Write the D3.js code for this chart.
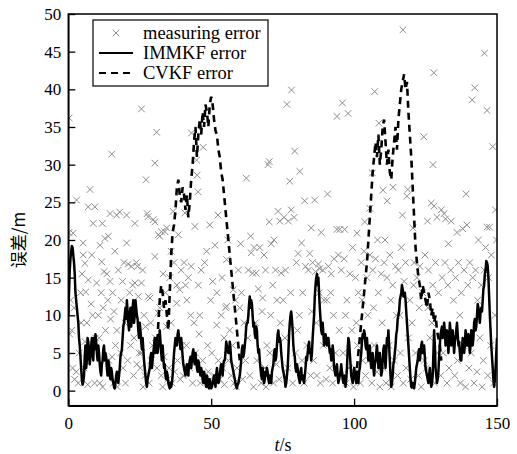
<!DOCTYPE html>
<html>
<head>
<meta charset="utf-8">
<script src="https://cdn.jsdelivr.net/npm/d3@7"></script>
<style>
  html, body { margin: 0; padding: 0; background: #fff; }
  svg { display: block; }
</style>
</head>
<body>
<svg id="chart" width="517" height="454"></svg>
<script>
// ---------------- data ----------------
const xTicks = [0, 50, 100, 150];
const yTicks = [0, 5, 10, 15, 20, 25, 30, 35, 40, 45, 50];
const legendLabels = ["measuring error", "IMMKF error", "CVKF error"];
const xLabelItalic = "t";
const xLabelRest = "/s";
const yLabel = "误差/m";

// IMMKF error, sampled every 0.5 s from t = 0
const immkfStep = 0.5;
const immkfValues = [
  10, 16, 18.5, 19, 17, 13, 11, 9, 6, 3, 0.8,
  2, 6, 4, 6.5, 3.5, 6, 5, 7, 7.5, 5,
  6, 3.5, 2, 4, 6, 5, 3, 4, 2, 3,
  1.5, 0.5, 1, 2.5, 1, 3, 5, 7, 9, 11,
  12, 9, 10, 8.5, 11, 9, 12, 10, 8, 9,
  6.5, 7, 4, 2, 0.5, 2, 3, 5, 4, 6,
  5, 7, 6, 8, 5, 6, 3, 2, 2.5, 1,
  0.3, 0.5, 2, 5, 7, 6, 8, 6.5, 7, 4.5,
  3, 2, 3.5, 2, 4, 3, 5, 4, 5, 3,
  4, 2.5, 3, 1.5, 2.5, 1, 2, 0.5, 1.5, 0.3,
  1, 2, 0.5, 3, 1, 2, 3.5, 2, 4, 5,
  6, 5, 6.5, 4, 3, 2, 1, 0.3, 1, 2,
  4, 6, 5, 7, 9, 10, 12.5, 12, 10, 9,
  7, 8, 5, 4, 2, 3, 1, 2.5, 3, 1.5,
  2, 1, 3, 5, 4, 6, 8, 7, 5, 3,
  2, 0.5, 2, 5, 9, 10.5, 8, 5, 3, 3.5,
  2, 1, 3, 2, 1, 3, 4, 6, 5, 4,
  7, 10, 14, 15.5, 15, 11, 8, 9, 6, 7.5,
  6, 7, 5, 4, 6, 3, 2, 3.5, 1, 2,
  3.5, 1.5, 2, 0.5, 3, 7, 5, 2, 1, 3,
  1.5, 2.5, 1, 3, 5, 7.5, 8, 6, 7, 4,
  6, 3, 5, 2, 4, 6, 3, 5, 2, 4,
  6, 3, 7, 8, 4, 0.5, 2, 4, 6, 8,
  10, 12, 13, 13.5, 13, 12, 9, 6, 3, 0.5,
  1, 0.3, 2, 3.5, 5, 4, 6, 5, 6, 3,
  2, 1, 3, 0.5, 2, 8, 3, 1, 2.5, 6,
  8, 7, 9, 6, 8, 5, 9, 6, 8, 5,
  7, 9, 6, 5, 4, 7, 5, 8, 6, 7.5,
  5, 8, 6, 9, 8, 10, 11, 9, 11, 12,
  14, 16, 17, 15, 10, 6, 3, 0.5, 3, 7
];
// IMMKF error at the quarter points (t = 0.25, 0.75, ...)
const immkfMidValues = [
  13, 17.5, 19.2, 18, 15.5, 12, 10, 7, 4.5, 1.5,
  1.2, 4.5, 3, 7, 5, 4.5, 7, 4, 5.5, 6.5,
  4, 5, 2.5, 3.5, 5.5, 4, 4.5, 2, 3.5, 1.5,
  2.5, 1, 0.3, 2, 1.5, 2, 4.5, 5.5, 8.5, 10,
  9.5, 10.5, 8, 11, 9.5, 12, 10, 11, 9.5, 7,
  8, 5.5, 5.5, 3, 1, 1.5, 2.5, 4.5, 3, 5,
  7, 6, 5, 7, 6.5, 4, 4.5, 3.5, 1.5, 2,
  0.6, 1, 1, 3.5, 6, 6.5, 7.5, 7, 5.5, 6,
  3.5, 2.5, 3, 2.5, 3.5, 4.5, 4, 5.5, 3.5, 4,
  2.5, 3.5, 2, 2.5, 1, 2, 0.5, 1.5, 0.3, 1,
  0.5, 1.5, 1, 2, 2, 1.2, 3, 2.5, 3.5, 4,
  6.5, 5.5, 5, 5.5, 3.5, 2.5, 1.5, 0.5, 0.8, 1.5,
  3, 5.5, 4.5, 6, 8.5, 9, 11.5, 11, 11.5, 8.5,
  7.5, 8.5, 6, 5.5, 3, 1.5, 2, 1.5, 2, 2.5,
  1, 1.5, 2.5, 3.5, 5.5, 4.5, 7.5, 6.5, 6.5, 4,
  2.5, 1.5, 1, 3, 7.5, 10, 9.5, 6, 4.5, 2.5,
  3, 1.5, 2.5, 1.5, 1.5, 2, 4.5, 5, 6.5, 5.5,
  5, 8.5, 12.5, 15, 14, 13, 9.5, 7.5, 7.5, 6.5,
  7, 6.5, 6, 5.5, 4.5, 5, 2.5, 3, 2, 1.5,
  2.5, 2.5, 1, 1.5, 1.5, 5.5, 6.5, 3.5, 1.5, 2,
  2.5, 1, 2, 2.5, 4, 6.5, 7, 7.5, 5.5, 5.5,
  5.5, 4, 4.5, 3, 3.5, 5, 4.5, 3.5, 3.5, 2.5,
  5.5, 4.5, 5, 6.5, 6, 2, 1, 3.5, 5, 7.5,
  9.5, 10.5, 12.5, 14, 12.5, 13, 10.5, 7.5, 4.5, 1.5,
  0.4, 0.8, 1, 3, 4, 5.5, 5, 6.5, 5, 4.5,
  2.5, 1.5, 2, 1.5, 1, 5, 6, 2, 1.5, 4.5,
  7.5, 8.5, 7.5, 8, 6.5, 7, 6.5, 8, 7, 6.5,
  6.5, 8, 7.5, 6.5, 4, 5.5, 6.5, 6, 7.5, 6,
  6.5, 6, 7.5, 7, 9.5, 8.5, 11.5, 10, 10.5, 10.5,
  13.5, 15.5, 17.2, 16.5, 12.5, 8, 4.5, 1.5, 1.5, 5
];

// CVKF error where it departs from IMMKF (0.5 s steps)
const cvkfSeg1Start = 31;
const cvkfSeg1Values = [
  5, 9, 12, 14, 13, 11, 12, 10, 8, 13,
  18, 21, 22, 24, 27, 28, 26, 25, 27, 26,
  24, 26, 23, 25, 28, 30, 33, 35, 31, 34,
  36, 34, 37, 35, 38, 37, 35, 38, 39, 38,
  36, 34.5, 34, 32, 31, 29, 28, 26, 24, 22,
  20, 18, 16, 14, 12, 10, 8, 6, 4
];
const cvkfSeg2Start = 101;
const cvkfSeg2Values = [
  3, 5, 7, 9, 11, 13, 15, 17, 20, 23,
  26, 29, 31, 33, 31, 34, 30, 32, 35, 36,
  33, 30, 32, 29, 28, 31, 33, 35, 32, 36,
  38, 40, 41, 42, 40, 41, 37, 34, 31, 27,
  23, 19, 17, 15, 14, 12, 14, 13, 12, 11,
  13, 12, 10, 11, 9, 10, 8, 7, 6, 4
];

// measuring error points [t, value]
const measT = [
  0.3,1.7,2.9,0.5,1.2,1.5,2.2,2.8,3.5,4.3,4.8,0.8,3.8,2.0,4.5,0.2,
  5.2,5.2,5.8,6.1,7,7,7.6,8.2,8.7,9.3,9.9,6.5,7.5,8.5,9.2,5.5,6.8,8,9.5,5.8,
  11.1,11.7,11.9,12.8,12.5,13.5,14,14.6,14.6,15.2,10.5,11,12,13,13.8,14.2,10.8,12.2,14.8,11.5,
  16.3,16.9,18,17.5,15.5,16,17,18.5,19,19.5,15.8,17.2,18.3,19.2,16.5,15.3,19.8,
  20.4,20.4,21,22,23.3,23.3,23.8,24.2,25.6,21.5,22.5,24.5,20.8,21.8,22.8,24,23,24.8,20,
  25.6,27.2,27.6,27.9,28,28.6,29.7,26,26.5,27,25.5,26.8,28.3,29,29.5,25.2,28.8,26.2,
  30.3,30.3,30.3,30.9,31.5,32.6,32,33.8,34.4,31.4,32,34.4,31,32.5,33,33.5,34,30.5,33.2,34.8,
  36.7,37.9,38.5,39,35.5,36,37,38,39.5,35.2,36.3,37.2,38.2,39.2,36,39.8,
  40.8,43.1,44.3,44.9,41,42,43,44,40.5,41.5,42.5,43.5,44.5,41.3,40.2,42.8,
  45.1,45.4,46,47.2,47.7,48.4,49.5,46.5,45.5,47,48,49,46.2,48.8,45.8,49.8,
  50.5,51.3,52,52.4,51.9,53.5,55,52.5,53,54,54.6,50.2,51,53.8,54.5,
  55.4,55.4,57.7,58.5,60,56,57,58,59,56.5,57.5,59.5,58.8,55.8,
  62.3,64,65,63,64.5,60.6,61.5,62,63.5,64.8,61,62.8,60.3,63.8,
  65.7,66.5,68,69.9,70.3,67,68.5,69,66,67.5,68.8,69.5,65.5,67.8,69.2,
  70.3,71,72,73.4,74,71.5,72.5,73,74.5,70.5,71.8,72.8,73.8,74.2,70.8,
  76.5,78.1,77.5,79.2,75.5,76,77,78,79,79.8,75.8,76.8,78.5,79.5,77.8,75.2,
  81,82.7,80.4,81.6,84.5,83,84,85,80.8,81.8,82.5,83.5,84.8,82,80.2,
  86.2,85.5,86.5,87.5,88,89,88.5,89.5,85.8,87,88.2,89.2,86.8,87.8,85.2,
  90.7,94,94,95,91,92,93,94.5,90.5,91.5,92.5,93.5,94.8,92.8,90.2,91.8,
  95.9,97.9,96.7,95.5,96.5,97.5,98.5,99.5,95.3,96.2,97.2,98.2,99.2,99.8,97,
  101,103.7,100.5,101.5,102.5,103.5,104.5,100.2,101.2,102.2,103,104,104.8,102.8,100.8,
  105.5,106.4,107.2,108.7,105.5,106.5,107.5,108.5,109.5,105.2,106.2,107,108,109,109.8,106.8,108.2,
  110.1,111.6,113.6,110.5,111.5,112.5,113.5,114.5,110.2,111.2,112.2,113,114,114.8,112.8,110.8,
  117.1,116.9,118.8,118.5,115.5,116.5,117.5,118,119.5,115.2,116.2,117.2,118.2,119,119.8,116,
  120.6,124.4,121,122,123,124,120.3,121.5,122.5,123.5,124.5,120.8,122.8,124.8,
  127.9,127.6,125.7,127,128,129,126,127.5,128.5,129.5,125.3,126.5,128.2,129.2,125.8,127.2,
  130.5,131.5,132,134,130.8,131.8,132.8,133.8,134.8,130.3,131.2,132.5,133.2,134.3,133,
  136,138,139.2,139.5,135.5,136.5,137.5,138.5,139.8,135.2,136.2,137.2,138.2,139,137,
  141.3,142.2,140.5,141.5,142.5,143.5,144.5,140.2,141,142,143,144,144.8,143.2,
  145.6,146.5,146.5,147.4,148.5,145.5,146,147,148,149.5,145.2,146.8,147.8,148.8,149.3,149.8
];
const measV = [
  36.2,20.9,25.3,7.5,8,3,1.5,2.5,1,13,15.5,12,5,11,9,21,
  19.6,18,16.9,13.1,14.7,24.4,26.7,18,22.2,24.4,14.3,9,5,10,1,3,0.8,11.5,7,6.5,
  19.3,17.1,22.2,20.2,15.8,15.5,20.5,14.5,23.5,31.4,10,1,0.5,8,12,4,7,11,9.5,13,
  18.5,23.3,23.7,16,13,10.5,8,12,14.5,17,1,0.5,5,3,6,4.5,9,
  19.6,23.3,16.8,16.5,22.2,14.3,17,16.5,14.3,13,14,12.5,4,6,2,3.5,7,5,1,
  37.4,28,23.5,23.1,12.5,12.3,22.7,16,10,8.5,5,2,1,4,6,3,9,0.5,
  30.2,22.4,17.8,34.3,20.7,21.1,20.5,21.1,21.6,10.3,11,8.5,3,2,0.5,4.5,13,7,15.5,1.5,
  23.8,11.6,20.7,13.4,15,9,17,14,16,3,1,2.5,4,1.5,18.5,6,
  23.6,34.2,21.8,30.6,14,15,16.5,9,17,12,3,1,5,6,2,10,
  28.6,26.4,10,32.3,17,18.5,22,16,14,4,1.5,2.5,1,6,7.5,12,
  14.5,19.3,13,23.3,8.7,10,11,4,1.5,3,0.8,5,2,15,7,
  17.4,11.2,13.4,12,11,4,2,1,3,8,6,16,0.5,20,
  28.2,18.3,19,16,15.6,13,9,4,2,0.5,1.5,7,19.5,20.5,
  15.6,13.5,12.3,30,30.4,19,18,16,4,1,3,6,9,10.5,0.5,
  22.4,19.5,20,23.8,22.5,14,16,12,15.6,5,1,3.5,1.5,9,10,
  38,39.9,27.8,31.8,23,16,22.5,24,23,17,7,3,1,5,13,12,
  29.1,25.2,18.2,19.6,18.2,16.5,16,21.6,10,4,1,6,2,13,8,
  25.3,17,15.8,16.8,16.2,16,21,12,4,2,1,6,9,13,10.5,
  26.1,21.4,36.4,21.4,16.5,15.5,17.5,18,12,3,1,5,8,10,1.5,13,
  38.2,36.8,21.4,16,17.5,12,15.5,19,2,5,1,3,8,0.5,10,
  20.9,22.4,15,13,17,18.5,15,3,6,1,4,2,10,12,9,
  24.2,28.9,39.7,35.5,18,16,17.5,13,15.5,4,1,6,2.5,0.5,9,11,20,
  26.6,25.2,27,17,15,18,14,16.5,3,1,6,0.5,4,10,12,20,
  47.9,23.3,26.7,25.8,16,19,14.5,17,12,2,5,1,3,7,1.5,10,
  21.6,33.7,17,15,16.5,13,9,5,2,0.5,4,14,11,18,
  42.2,30,22.5,24.9,24.5,23,16,14,17,13,3,7,1,5,11,9,
  24,23.5,22.8,22.5,15,17,14,16,12,2,5,1,3,7,19.5,
  21,21.5,26.1,22,15,17,13,16,14,2,4,1,6,0.5,10,
  38.6,40.2,17,15,16,20,14,3,5,1,2.5,7,0.5,12,
  44.8,37.2,21.7,21.7,32.4,16,19,15,18,24,4,2,6,1,10,20
];

// ---------------- drawing ----------------
(function () {
const svg = d3.select("#chart");
const pL = 68.3, pR = 497, pT = 14, pB = 405.7;
const serif = "'Liberation Serif', 'Times New Roman', 'DejaVu Serif', serif";

const x = d3.scaleLinear().domain([0, 150]).range([pL, pR]);
const y = d3.scaleLinear().domain([-2, 50]).range([pB, pT]);

const clipId = "plotclip";
svg.append("defs").append("clipPath").attr("id", clipId)
  .append("rect").attr("x", pL).attr("y", pT)
  .attr("width", pR - pL).attr("height", pB - pT);

const plot = svg.append("g");

// scatter (×)
const measData = measT.map((t, i) => [t, measV[i]]);
const s = 3.3;
const pts = plot.append("g").attr("clip-path", `url(#${clipId})`)
  .attr("stroke", "#8c8c8c").attr("stroke-width", 1).attr("fill", "none");
pts.selectAll("path").data(measData).enter().append("path")
  .attr("d", d => {
    const cx = x(d[0]), cy = y(d[1]);
    return `M${cx - s},${cy - s}L${cx + s},${cy + s}M${cx - s},${cy + s}L${cx + s},${cy - s}`;
  });

// IMMKF line (main samples interleaved with quarter-point samples)
const immkfData = [];
immkfValues.forEach((v, i) => {
  immkfData.push([i * immkfStep, v]);
  if (i < immkfMidValues.length) immkfData.push([i * immkfStep + immkfStep / 2, immkfMidValues[i]]);
});
const line = d3.line().x(d => x(d[0])).y(d => y(d[1]));
plot.append("path").datum(immkfData)
  .attr("clip-path", `url(#${clipId})`)
  .attr("d", line).attr("fill", "none").attr("stroke", "#000")
  .attr("stroke-width", 2.5).attr("stroke-linejoin", "round");

// CVKF dashed segments
[[cvkfSeg1Start, cvkfSeg1Values], [cvkfSeg2Start, cvkfSeg2Values]].forEach(([st, vals]) => {
  const data = vals.map((v, i) => [st + i * immkfStep, v]);
  plot.append("path").datum(data)
    .attr("d", line).attr("fill", "none").attr("stroke", "#000")
    .attr("stroke-width", 2.6).attr("stroke-dasharray", "7,5");
});

// axes
const fontTick = 17;
const xAxis = d3.axisBottom(x).tickValues(xTicks).tickSizeInner(-7).tickSizeOuter(0).tickPadding(11);
const yAxis = d3.axisLeft(y).tickValues(yTicks).tickSizeInner(-7).tickSizeOuter(0).tickPadding(7);
const gx = svg.append("g").attr("transform", `translate(0,${pB})`).call(xAxis);
const gy = svg.append("g").attr("transform", `translate(${pL},0)`).call(yAxis);
[gx, gy].forEach(g => {
  g.attr("font-family", serif).attr("font-size", fontTick);
  g.selectAll("path.domain").attr("stroke", "#000").attr("stroke-width", 1.5);
  g.selectAll(".tick line").attr("stroke", "#000").attr("stroke-width", 1.3);
  g.selectAll(".tick text").attr("fill", "#000").attr("font-family", serif)
    .style("font-size", fontTick + "px").style("font-family", serif);
});

// frame
svg.append("rect").attr("x", pL).attr("y", pT)
  .attr("width", pR - pL).attr("height", pB - pT)
  .attr("fill", "none").attr("stroke", "#000").attr("stroke-width", 1.5);

// axis titles
const xt = svg.append("text").attr("x", 283).attr("y", 451)
  .attr("text-anchor", "middle").attr("font-family", serif)
  .style("font-family", serif).style("font-size", "18px");
xt.append("tspan").style("font-style", "italic").text(xLabelItalic);
xt.append("tspan").text(xLabelRest);

svg.append("text")
  .attr("transform", "translate(25,240) rotate(-90)")
  .attr("text-anchor", "middle")
  .style("font-family", "'Noto Sans CJK SC', 'Liberation Serif', serif")
  .style("font-size", "17px")
  .text(yLabel);

// legend
const lg = svg.append("g");
lg.append("rect").attr("x", 93).attr("y", 20).attr("width", 175).attr("height", 66)
  .attr("fill", "#fff").attr("stroke", "#000").attr("stroke-width", 1.2);
const rows = [33, 53, 73];
legendLabels.forEach((lab, i) => {
  const yy = rows[i];
  if (i === 0) {
    lg.append("path")
      .attr("d", `M${116 - s},${yy - s}L${116 + s},${yy + s}M${116 - s},${yy + s}L${116 + s},${yy - s}`)
      .attr("stroke", "#8c8c8c").attr("stroke-width", 1).attr("fill", "none");
  } else {
    lg.append("line").attr("x1", 99).attr("x2", 133).attr("y1", yy).attr("y2", yy)
      .attr("stroke", "#000").attr("stroke-width", 1.8)
      .attr("stroke-dasharray", i === 2 ? "7,5" : null);
  }
  lg.append("text").attr("x", 143).attr("y", yy + 6).attr("font-family", serif)
    .style("font-family", serif).style("font-size", "18.5px")
    .text(lab);
});
})();
</script>
</body>
</html>
